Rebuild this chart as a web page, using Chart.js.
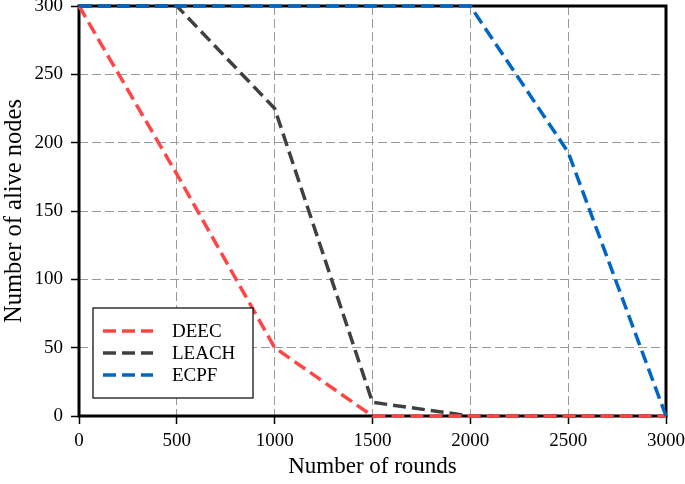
<!DOCTYPE html>
<html>
<head>
<meta charset="utf-8">
<script src="https://cdn.jsdelivr.net/npm/chart.js@4.4.1/dist/chart.umd.min.js"></script>
<style>
  html, body { margin: 0; padding: 0; background: #fff; }
  #wrap { width: 685px; height: 484px; }
</style>
</head>
<body>
<div id="wrap"><canvas id="aliveChart"></canvas></div>
<script>
const rounds = [0, 500, 1000, 1500, 2000, 2500, 3000];
const deec = [300, 177, 50, 0, 0, 0, 0];
const leach = [300, 300, 225, 10, 0, 0, 0];
const ecpf = [300, 300, 300, 300, 300, 193, 0];
const xTicks = [0, 500, 1000, 1500, 2000, 2500, 3000];
const yTicks = [0, 50, 100, 150, 200, 250, 300];

const serif = "'Liberation Serif', 'Times New Roman', serif";
const dash = [13, 6];

const toPoints = vals => rounds.map((r, i) => ({ x: r, y: vals[i] }));

// thick black box around the plot, drawn under the lines
const framePlugin = {
  id: 'frame',
  beforeDatasetsDraw(chart) {
    const { ctx, chartArea: a } = chart;
    ctx.save();
    ctx.strokeStyle = '#000';
    ctx.lineWidth = 3;
    ctx.strokeRect(a.left, a.top, a.right - a.left, a.bottom - a.top);
    ctx.restore();
  }
};

// legend sits inside the plot, bottom-left
const insideLegend = {
  id: 'insideLegend',
  afterDraw(chart) {
    const { ctx, chartArea: a } = chart;
    const x = a.left + 14, y = a.bottom - 108, w = 160, h = 90;
    ctx.save();
    ctx.fillStyle = '#fff';
    ctx.fillRect(x, y, w, h);
    ctx.strokeStyle = '#000';
    ctx.lineWidth = 1.2;
    ctx.strokeRect(x, y, w, h);
    ctx.font = '19px ' + serif;
    ctx.textBaseline = 'middle';
    chart.data.datasets.forEach((ds, i) => {
      const ry = y + 23 + i * 22;
      ctx.strokeStyle = ds.borderColor;
      ctx.lineWidth = ds.borderWidth;
      ctx.setLineDash(ds.borderDash);
      ctx.beginPath();
      ctx.moveTo(x + 10, ry);
      ctx.lineTo(x + 60, ry);
      ctx.stroke();
      ctx.setLineDash([]);
      ctx.fillStyle = '#000';
      ctx.fillText(ds.label, x + 79, ry + 1);
    });
    ctx.restore();
  }
};

new Chart(document.getElementById('aliveChart'), {
  type: 'line',
  data: {
    datasets: [
      { label: 'DEEC', data: toPoints(deec), borderColor: '#ff4545', order: 1 },
      { label: 'LEACH', data: toPoints(leach), borderColor: '#404040', order: 2 },
      { label: 'ECPF', data: toPoints(ecpf), borderColor: '#0066c6', order: 0 }
    ].map(ds => Object.assign(ds, {
      borderWidth: 3.5,
      borderDash: dash,
      pointRadius: 0,
      tension: 0,
      fill: false,
      clip: false
    }))
  },
  options: {
    responsive: true,
    maintainAspectRatio: false,
    animation: false,
    layout: { padding: { top: 6, right: 19, left: 0, bottom: 0 } },
    plugins: {
      legend: { display: false },
      tooltip: { enabled: false }
    },
    scales: {
      x: {
        type: 'linear',
        min: 0,
        max: 3000,
        afterBuildTicks: s => { s.ticks = xTicks.map(v => ({ value: v })); },
        afterFit: s => { s.height = 68; s.paddingLeft = 0; s.paddingRight = 0; },
        grid: { color: '#999', lineWidth: 1, tickLength: 8, tickColor: '#000', tickWidth: 1.5 },
        border: { display: false, dash: [9, 4] },
        ticks: {
          color: '#000', padding: 6, maxRotation: 0,
          font: { family: serif, size: 19 },
          callback: v => String(v)
        },
        title: {
          display: true,
          text: 'Number of rounds',
          color: '#000',
          padding: { top: 0, bottom: 3 },
          font: { family: serif, size: 23 }
        }
      },
      y: {
        min: 0,
        max: 300,
        afterBuildTicks: s => { s.ticks = yTicks.map(v => ({ value: v })); },
        afterFit: s => { s.width = 79; s.paddingTop = 0; s.paddingBottom = 0; },
        grid: { color: '#999', lineWidth: 1, tickLength: 8, tickColor: '#000', tickWidth: 1.5 },
        border: { display: false, dash: [9, 4] },
        ticks: {
          color: '#000', padding: 8,
          font: { family: serif, size: 19 },
          callback: v => String(v)
        },
        title: {
          display: true,
          text: 'Number of alive nodes',
          color: '#000',
          padding: { top: 0, bottom: 0 },
          font: { family: serif, size: 24.5 }
        }
      }
    }
  },
  plugins: [framePlugin, insideLegend]
});
</script>
</body>
</html>
